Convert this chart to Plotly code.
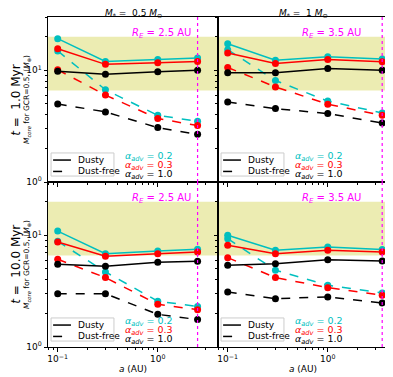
#
# plot.py
# - core mass needed for GCR=0.5 vs orbital distance, 2x2 panels

import plotly.graph_objects as go
from plotly.subplots import make_subplots

#-- data
a_low = [0.1, 0.3, 1.0, 2.5]     # M* = 0.5 Msun
a_high = [0.1, 0.3, 1.0, 3.5]    # M* = 1 Msun
r_edge = [2.5, 3.5]
band = [6.6, 20.0]

alphas = ["0.2", "0.3", "1.0"]
colors = ["#00bfbf", "#ff0000", "#000000"]

# t = 1.0 Myr, M* = 0.5
dusty_1_05 = [[19.2, 12.0, 12.5, 12.9], [15.6, 11.3, 11.7, 12.0], [9.8, 9.2, 9.7, 10.0]]
free_1_05 = [[14.9, 6.7, 3.95, 3.5], [10.1, 6.0, 3.7, 3.2], [5.0, 4.24, 3.07, 2.67]]
# t = 1.0 Myr, M* = 1
dusty_1_10 = [[17.3, 12.3, 13.2, 12.6], [14.3, 11.5, 12.5, 11.9], [9.5, 9.5, 10.4, 10.0]]
free_1_10 = [[15.3, 8.1, 5.3, 4.15], [10.6, 7.1, 4.97, 3.95], [5.2, 4.54, 4.1, 3.37]]
# t = 10.0 Myr, M* = 0.5
dusty_10_05 = [[10.9, 6.85, 7.24, 7.5], [8.7, 6.49, 6.85, 7.1], [5.5, 5.27, 5.73, 5.85]]
free_10_05 = [[8.84, 4.7, 2.57, 2.31], [6.1, 4.18, 2.41, 2.16], [3.0, 3.0, 1.96, 1.76]]
# t = 10.0 Myr, M* = 1
dusty_10_10 = [[10.0, 7.35, 7.87, 7.45], [8.13, 6.85, 7.35, 7.1], [5.38, 5.57, 6.05, 5.89]]
free_10_10 = [[9.33, 4.87, 3.57, 3.05], [6.31, 4.18, 3.4, 2.9], [3.11, 2.71, 2.81, 2.48]]

panels = [
    (1, 1, a_low, dusty_1_05, free_1_05),
    (1, 2, a_high, dusty_1_10, free_1_10),
    (2, 1, a_low, dusty_10_05, free_10_05),
    (2, 2, a_high, dusty_10_10, free_10_10),
]

FONT = "DejaVu Sans"

fig = make_subplots(rows=2, cols=2, shared_xaxes=True, shared_yaxes=True,
                    horizontal_spacing=0, vertical_spacing=0)

for row, col, a, dusty, free in panels:
    for i in range(3):
        fig.add_trace(go.Scatter(x=a, y=dusty[i], mode="lines+markers",
                                 line=dict(color=colors[i], width=1.5),
                                 marker=dict(color=colors[i], size=7),
                                 showlegend=False), row=row, col=col)
        fig.add_trace(go.Scatter(x=a, y=free[i], mode="lines+markers",
                                 line=dict(color=colors[i], width=1.5, dash="dash"),
                                 marker=dict(color=colors[i], size=7),
                                 showlegend=False), row=row, col=col)

    #-- shaded band and R_E line (after traces so the subplot is not "empty")
    fig.add_hrect(y0=band[0], y1=band[1], fillcolor="rgba(191,191,0,0.3)",
                  line_width=0, layer="below", row=row, col=col)
    fig.add_vline(x=r_edge[col - 1], line=dict(color="#ff00ff", dash="dot", width=1.2),
                  row=row, col=col)

#-- axes
x_minor = [0.08, 0.09, 0.2, 0.3, 0.4, 0.5, 0.6, 0.7, 0.8, 0.9, 2, 3, 4]
y_minor = [2, 3, 4, 5, 6, 7, 8, 9, 20, 30]
fig.update_xaxes(type="log", range=[-1.0969, 0.60206],
                 tickvals=[0.1, 1], ticktext=["10<sup>\u22121</sup>", "10<sup>0</sup>"],
                 ticks="outside", ticklen=3.5, tickcolor="black",
                 minor=dict(tickvals=x_minor, ticks="outside", ticklen=2, tickcolor="black"),
                 showgrid=False, showline=True, linecolor="black", linewidth=1, mirror=True,
                 tickfont=dict(size=9, family=FONT, color="black"), zeroline=False)
fig.update_yaxes(type="log", range=[0, 1.4771],
                 tickvals=[1, 10], ticktext=["10<sup>0</sup>", "10<sup>1</sup>"],
                 ticks="outside", ticklen=3.5, tickcolor="black",
                 minor=dict(tickvals=y_minor, ticks="outside", ticklen=2, tickcolor="black"),
                 showgrid=False, showline=True, linecolor="black", linewidth=1, mirror=True,
                 tickfont=dict(size=9, family=FONT, color="black"), zeroline=False)
for col in [1, 2]:
    fig.update_xaxes(title_text="<i>a</i> (AU)", title_font=dict(size=9, family=FONT, color="black"),
                     title_standoff=2, row=2, col=col)

#-- texts
annotations = []
col_titles = ["<i>M</i><sub>*</sub> =  0.5 <i>M</i><sub>\u2299</sub>",
              "<i>M</i><sub>*</sub> =  1 <i>M</i><sub>\u2299</sub>"]
for j, t in enumerate(col_titles):
    annotations.append(dict(text=t, xref="paper", yref="paper", x=0.25 + 0.5 * j, y=1,
                            xanchor="center", yanchor="middle", yshift=4, borderpad=0,
                            showarrow=False, font=dict(size=9, family=FONT, color="black")))

row_titles = ["<i>t</i> =  1.0 Myr", "<i>t</i> =  10.0 Myr"]
for j, t in enumerate(row_titles):
    yc = 0.75 - 0.5 * j
    annotations.append(dict(text=t, xref="paper", yref="paper", x=-0.096, y=yc,
                            xanchor="center", yanchor="middle", textangle=-90, showarrow=False,
                            borderpad=0, font=dict(size=12, family=FONT, color="black")))
    annotations.append(dict(text="<i>M<sub>core</sub></i> for GCR=0.5, (<i>M</i><sub>\u2295</sub>)",
                            xref="paper", yref="paper", x=-0.063, y=yc,
                            xanchor="center", yanchor="middle", textangle=-90, showarrow=False,
                            borderpad=0, font=dict(size=7.5, family=FONT, color="black")))

shapes = list(fig.layout.shapes)
k = 0
for row, col, a, dusty, free in panels:
    xr = "x domain" if k == 0 else "x%d domain" % (k + 1)
    yr = "y domain" if k == 0 else "y%d domain" % (k + 1)
    annotations.append(dict(text="<i>R<sub>E</sub></i> = %.1f AU" % r_edge[col - 1],
                            xref=xr, yref=yr, x=0.855, y=0.95, xanchor="right",
                            showarrow=False, font=dict(size=10, family=FONT, color="#ff00ff")))
    for i in range(3):
        annotations.append(dict(text="<i>\u03b1<sub>adv</sub></i> = " + alphas[i],
                                xref=xr, yref=yr, x=0.44, y=0.155 - 0.055 * i,
                                xanchor="left", yanchor="middle", showarrow=False,
                                font=dict(size=9.5, family=FONT, color=colors[i])))

    #-- small legend box drawn by hand
    shapes.append(dict(type="rect", xref=xr, yref=yr, x0=0.018, x1=0.388, y0=0.036, y1=0.176,
                       line=dict(color="#cccccc", width=1), fillcolor="rgba(255,255,255,0.8)"))
    shapes.append(dict(type="line", xref=xr, yref=yr, x0=0.03, x1=0.135, y0=0.133, y1=0.133,
                       line=dict(color="black", width=1.5)))
    shapes.append(dict(type="line", xref=xr, yref=yr, x0=0.03, x1=0.135, y0=0.064, y1=0.064,
                       line=dict(color="black", width=1.5, dash="dash")))
    annotations.append(dict(text="Dusty", xref=xr, yref=yr, x=0.165, y=0.133,
                            xanchor="left", yanchor="middle", showarrow=False,
                            font=dict(size=9, family=FONT, color="black")))
    annotations.append(dict(text="Dust-free", xref=xr, yref=yr, x=0.165, y=0.064,
                            xanchor="left", yanchor="middle", showarrow=False,
                            font=dict(size=9, family=FONT, color="black")))
    k += 1

fig.update_layout(annotations=annotations, shapes=shapes)

# page body adds an 8px offset, so the figure is 8px smaller than the window
fig.update_layout(width=385, height=369, margin=dict(l=40, r=5, t=9, b=30),
                  plot_bgcolor="white", paper_bgcolor="white", showlegend=False,
                  font=dict(family=FONT, color="black"))

fig.write_html("out.html")
